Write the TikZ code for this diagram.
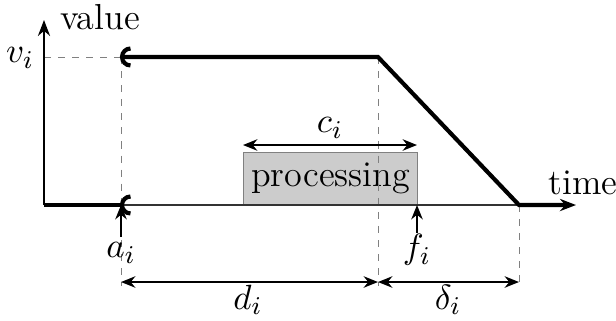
\documentclass[tikz,border=0pt]{standalone}
\usetikzlibrary{arrows.meta}
\begin{document}
\begin{tikzpicture}[x=0.3125pt,y=-0.3125pt,
  guide/.style={gray, line width=0.3pt, dash pattern=on 2.2pt off 2.2pt},
  thickline/.style={line width=1.3pt, line join=miter},
  axisline/.style={line width=0.6pt},
  dim/.style={line width=0.5pt, {Stealth[length=4.5pt,width=3.6pt]}-{Stealth[length=4.5pt,width=3.6pt]}},
  up/.style={line width=0.6pt, -{Stealth[length=4.5pt,width=3.6pt]}},
  cmark/.style={line width=1.3pt},
  lbl/.style={inner sep=0pt},
  txt/.style={font=\fontsize{11.3}{13}\selectfont}]
\useasboundingbox (0,0) rectangle (616,320);
% coordinates
\coordinate (O) at (44,205);
\coordinate (Ytop) at (44,20);
\coordinate (A) at (121,205);
\coordinate (Aend) at (122,205);
\coordinate (Atop) at (121,57);
\coordinate (Astartline) at (122,57);
\coordinate (Vax) at (44,57);
\coordinate (D) at (378,57);
\coordinate (E) at (519,205);
\coordinate (Xend) at (576,205);
\coordinate (F) at (417,205);
\coordinate (Fstart) at (417,233);
\coordinate (Astart) at (121,237);
\coordinate (Agl) at (121,286);
\coordinate (Dgl) at (378,286);
\coordinate (Egl) at (519,286);
\coordinate (dimA) at (121,282);
\coordinate (dimD) at (378,282);
\coordinate (dimE) at (519,282);
\coordinate (cL) at (243,145);
\coordinate (cR) at (417,145);
% processing box
\node (proc) [txt, draw=gray, fill=gray!40, line width=0.4pt, minimum width=54.4pt, minimum height=16.25pt, inner sep=0pt, anchor=south west] at (243,205) {processing};
% guides
\draw[guide] (Vax) -- (Atop);
\draw[guide] (Atop) -- (Agl);
\draw[guide] (D) -- (Dgl);
\draw[guide] (E) -- (Egl);
% axes
\draw[axisline, -{Stealth[length=5pt,width=3.8pt]}] (O) -- (Ytop);
\draw[line width=0.5pt, black!80] (O) -- (E);
% value function
\draw[thickline] (O) -- (Aend);
\draw[thickline, -{Stealth[length=5pt,width=3.8pt]}] (Astartline) -- (D) -- (E) -- (Xend);
% open-interval marks
\draw[cmark] (130.5,48.5) arc[start angle=90, end angle=270, radius=2.65pt];
\draw[cmark] (130.5,196.5) arc[start angle=90, end angle=270, radius=2.65pt];
% arrows
\draw[up] (Astart) -- (A);
\draw[up] (Fstart) -- (F);
\draw[dim] (cL) -- (cR);
\draw[dim] (dimA) -- (dimD);
\draw[dim] (dimD) -- (dimE);
% labels
\node (lvalue) [lbl, txt] at (100,17) {value};
\node (ltime) [lbl, txt] at (583,183) {time};
\node (lv) [lbl, txt] at (20,58) {$v_i$};
\node (la) [lbl, txt] at (121,253) {$a_i$};
\node (lf) [lbl, txt] at (417,250) {$f_i$};
\node (lc) [lbl, txt] at (330,128) {$c_i$};
\node (ld) [lbl, txt] at (248,300) {$d_i$};
\node (ldelta) [lbl, txt] at (448,300) {$\delta_i$};
\end{tikzpicture}
\end{document}
